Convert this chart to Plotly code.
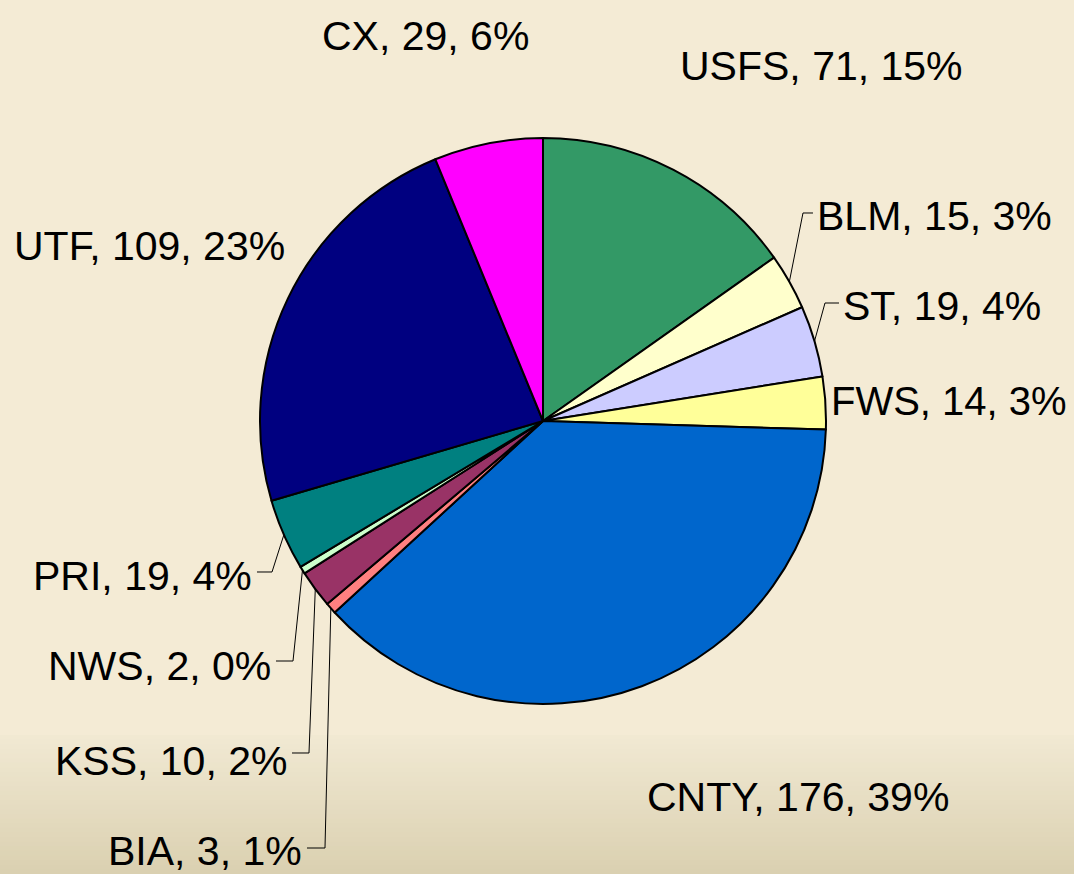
import math
import plotly.graph_objects as go

# ---- data ----
labels = ["USFS", "BLM", "ST", "FWS", "CNTY", "BIA", "KSS", "NWS", "PRI", "UTF", "CX"]
values = [71, 15, 19, 14, 176, 3, 10, 2, 19, 109, 29]
pct_text = ["15%", "3%", "4%", "3%", "39%", "1%", "2%", "0%", "4%", "23%", "6%"]
colors = ["#339966", "#FFFFCC", "#CCCCFF", "#FFFF99", "#0066CC", "#FF8080",
          "#993366", "#CCFFCC", "#008080", "#000080", "#FF00FF"]

# ---- layout (pixels in a 1074x874 page) ----
W, H = 1074, 874
FONT = "Liberation Sans, Arial, sans-serif"
FS = 41
CX_PX, CY_PX, R_PX = 543, 421, 283

# label anchor: (x px, y px, xanchor, font size)
label_pos = {
    "USFS": (678, 66, "left", FS),
    "BLM": (815, 216, "left", FS),
    "ST": (841, 306, "left", FS),
    "FWS": (829, 401, "left", 40),
    "CNTY": (645, 797, "left", FS),
    "BIA": (304, 851, "right", FS),
    "KSS": (289, 761, "right", FS),
    "NWS": (273, 666, "right", FS),
    "PRI": (254, 576, "right", FS),
    "UTF": (287, 246, "right", FS),
    "CX": (425, 36, "center", FS),
}
# leader lines: elbow point and end point near the label
leaders = {
    "BLM": ((803, 213), (813, 213)),
    "ST": ((825, 303), (839, 303)),
    "PRI": ((272, 572), (257, 572)),
    "NWS": ((293, 661), (276, 661)),
    "KSS": ((309, 753), (292, 753)),
    "BIA": ((325, 848), (307, 848)),
}


def px(x):
    return x / W


def py(y):
    return 1 - y / H


fig = go.Figure()
fig.add_trace(go.Pie(
    labels=labels,
    values=values,
    textinfo="none",
    sort=False,
    direction="clockwise",
    rotation=0,
    marker=dict(colors=colors, line=dict(color="#000000", width=2)),
    domain=dict(x=[px(CX_PX - R_PX), px(CX_PX + R_PX)],
                y=[py(CY_PX + R_PX), py(CY_PX - R_PX)]),
    showlegend=False,
    hoverinfo="label+value+percent",
))

# background gradient bands at the bottom
shapes = []
n = 30
g_top = 735
c0 = (0xF1, 0xE9, 0xD3)
c1 = (0xDA, 0xD0, 0xB0)
for i in range(n):
    t = (i + 0.5) / n
    col = tuple(int(round(c0[k] + (c1[k] - c0[k]) * t)) for k in range(3))
    y0p = g_top + (H - g_top) * i / n
    y1p = g_top + (H - g_top) * (i + 1) / n
    shapes.append(dict(type="rect", xref="paper", yref="paper", x0=-0.05, x1=1.05,
                       y0=py(y1p + 1), y1=py(y0p), line=dict(width=0),
                       fillcolor="rgb(%d,%d,%d)" % col, layer="below"))

# leader lines, starting at slice mid-angle on the rim (computed from data)
total = sum(values)
cum = 0
mid_angle = {}
for lab, v in zip(labels, values):
    mid_angle[lab] = (cum + v / 2) / total * 2 * math.pi
    cum += v

for lab, (elbow, end) in leaders.items():
    a = mid_angle[lab]
    sx = CX_PX + R_PX * math.sin(a)
    sy = CY_PX - R_PX * math.cos(a)
    path = "M %f %f L %f %f L %f %f" % (px(sx), py(sy), px(elbow[0]), py(elbow[1]),
                                         px(end[0]), py(end[1]))
    shapes.append(dict(type="path", xref="paper", yref="paper", path=path,
                       line=dict(color="#000000", width=1), layer="above"))

annotations = []
for lab, v, p in zip(labels, values, pct_text):
    x, y, anchor, size = label_pos[lab]
    annotations.append(dict(
        x=px(x), y=py(y), xref="paper", yref="paper",
        text="%s, %d, %s" % (lab, v, p), showarrow=False,
        xanchor=anchor, yanchor="middle",
        font=dict(family=FONT, size=size, color="#000000"),
    ))

fig.update_layout(
    width=W, height=H,
    margin=dict(l=0, r=0, t=0, b=0, pad=0),
    paper_bgcolor="#F4EBD5",
    plot_bgcolor="#F4EBD5",
    shapes=shapes,
    annotations=annotations,
    font=dict(family=FONT),
)
fig.write_html(
    "out.html",
    config={"displayModeBar": False},
    post_script="document.body.style.margin='0';document.body.style.overflow='hidden';",
)
